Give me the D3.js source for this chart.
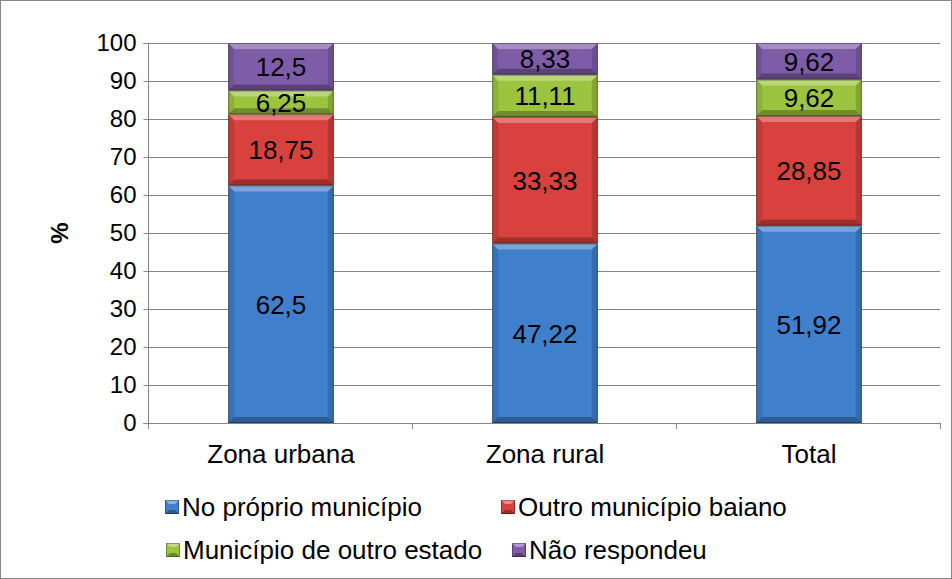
<!DOCTYPE html>
<html>
<head>
<meta charset="utf-8">
<script src="https://cdn.jsdelivr.net/npm/d3@7"></script>
<style>
  body { margin: 0; background: #fff; }
  svg { font-family: "Liberation Sans", Arial, sans-serif; }
</style>
</head>
<body>
<div id="chart"></div>
<script>
var width = 952;
var height = 579;

// data
var categories = ['Zona urbana', 'Zona rural', 'Total'];
var seriesNames = ['No próprio município', 'Outro município baiano', 'Município de outro estado', 'Não respondeu'];
var proprio = [62.5, 47.22, 51.92];
var baiano = [18.75, 33.33, 28.85];
var outroEstado = [6.25, 11.11, 9.62];
var naoResp = [12.5, 8.33, 9.62];
var labels = [
  ['62,5', '47,22', '51,92'],
  ['18,75', '33,33', '28,85'],
  ['6,25', '11,11', '9,62'],
  ['12,5', '8,33', '9,62']
];
var yTicks = [0, 10, 20, 30, 40, 50, 60, 70, 80, 90, 100];
var colors = ['#3f7fcc', '#d8413d', '#9cc43f', '#7e5ca8'];

var plotLeft = 148, plotRight = 940, plotTop = 43, plotBottom = 423;

var svg = d3.select('#chart').append('svg')
  .attr('width', width)
  .attr('height', height);

svg.append('rect')
  .attr('x', 0.5).attr('y', 0.5)
  .attr('width', width - 1).attr('height', height - 1)
  .attr('fill', '#fff').attr('stroke', '#868686');

var xScale = d3.scaleBand()
  .domain(categories)
  .range([plotLeft, plotRight])
  .paddingInner(0.6)
  .paddingOuter(0.3);

var xEdges = d3.scaleLinear().domain([0, 3]).range([plotLeft, plotRight]);

var yScale = d3.scaleLinear()
  .domain([0, 100])
  .range([plotBottom, plotTop]);

// gridlines
svg.append('g')
  .selectAll('line')
  .data(yTicks.slice(1))
  .enter().append('line')
  .attr('x1', plotLeft).attr('x2', plotRight)
  .attr('y1', d => Math.round(yScale(d)) + 0.5).attr('y2', d => Math.round(yScale(d)) + 0.5)
  .attr('stroke', '#868686').attr('stroke-width', 1);

// stacked data
var rows = categories.map((c, i) => ({
  cat: c,
  s0: proprio[i], s1: baiano[i], s2: outroEstado[i], s3: naoResp[i]
}));
var stack = d3.stack().keys(['s0', 's1', 's2', 's3']);
var layers = stack(rows);

var bev = 6;
var bars = svg.append('g');
layers.forEach((layer, si) => {
  layer.forEach((d, ci) => {
    var x0 = xScale(categories[ci]) + 1;
    var w = xScale.bandwidth();
    var y0 = yScale(d[1]);
    var y1 = yScale(d[0]);
    var h = y1 - y0;
    var b = Math.min(bev, h / 2);
    var g = bars.append('g');
    g.append('rect')
      .attr('x', x0).attr('y', y0).attr('width', w).attr('height', h)
      .attr('fill', colors[si]);
    // top bevel
    g.append('polygon')
      .attr('points', [[x0, y0], [x0 + w, y0], [x0 + w - b, y0 + b], [x0 + b, y0 + b]].join(' '))
      .attr('fill', '#fff').attr('opacity', 0.3);
    // bottom bevel
    g.append('polygon')
      .attr('points', [[x0, y1], [x0 + w, y1], [x0 + w - b, y1 - b], [x0 + b, y1 - b]].join(' '))
      .attr('fill', '#000').attr('opacity', 0.28);
    // left bevel
    g.append('polygon')
      .attr('points', [[x0, y0], [x0 + b, y0 + b], [x0 + b, y1 - b], [x0, y1]].join(' '))
      .attr('fill', '#000').attr('opacity', 0.1);
    // right bevel
    g.append('polygon')
      .attr('points', [[x0 + w, y0], [x0 + w - b, y0 + b], [x0 + w - b, y1 - b], [x0 + w, y1]].join(' '))
      .attr('fill', '#000').attr('opacity', 0.15);
    g.append('rect')
      .attr('x', x0 + 0.5).attr('y', y0 + 0.5).attr('width', w - 1).attr('height', h - 1)
      .attr('fill', 'none').attr('stroke', '#000').attr('stroke-opacity', 0.35);
    g.append('text')
      .attr('x', x0 + w / 2)
      .attr('y', (y0 + y1) / 2)
      .attr('dy', '0.36em')
      .attr('text-anchor', 'middle')
      .attr('font-size', 26)
      .attr('fill', '#000')
      .text(labels[si][ci]);
  });
});

// y axis
var yAxis = d3.axisLeft(yScale).tickValues(yTicks).tickSize(5).tickPadding(7);
var yG = svg.append('g')
  .attr('transform', 'translate(' + (plotLeft + 0.5) + ',0)')
  .call(yAxis);
yG.selectAll('text').attr('font-size', 24).attr('fill', '#000')
  .attr('font-family', '"Liberation Sans", Arial, sans-serif');
yG.selectAll('line, path').attr('stroke', '#868686');
yG.select('path').attr('d', 'M-5,' + (plotTop + 0.5) + 'H0V' + (plotBottom + 0.5) + 'H-5');

// x axis
svg.append('line')
  .attr('x1', plotLeft).attr('x2', plotRight)
  .attr('y1', plotBottom + 0.5).attr('y2', plotBottom + 0.5)
  .attr('stroke', '#868686');
svg.append('g').selectAll('line')
  .data([0, 1, 2, 3])
  .enter().append('line')
  .attr('x1', d => Math.round(xEdges(d)) + 0.5).attr('x2', d => Math.round(xEdges(d)) + 0.5)
  .attr('y1', plotBottom).attr('y2', plotBottom + 6)
  .attr('stroke', '#868686');
svg.append('g').selectAll('text')
  .data(categories)
  .enter().append('text')
  .attr('x', d => xScale(d) + xScale.bandwidth() / 2 + 1)
  .attr('y', 463)
  .attr('text-anchor', 'middle')
  .attr('font-size', 26)
  .text(d => d);

// y label
svg.append('text')
  .attr('transform', 'translate(68,233) rotate(-90)')
  .attr('text-anchor', 'middle')
  .attr('font-size', 24)
  .attr('font-weight', 'bold')
  .text('%');

// legend (flow layout like the original)
var legendPos = [[165, 507], [501, 507], [166, 550], [512, 550]];
var lg = svg.append('g');
seriesNames.forEach((n, i) => {
  var p = legendPos[i];
  var g = lg.append('g').attr('transform', 'translate(' + p[0] + ',' + p[1] + ')');
  g.append('rect').attr('x', 0).attr('y', -7).attr('width', 14).attr('height', 14)
    .attr('fill', colors[i]);
  g.append('polygon').attr('points', '0,-7 14,-7 10,-3 4,-3').attr('fill', '#fff').attr('opacity', 0.4);
  g.append('polygon').attr('points', '0,7 14,7 10,3 4,3').attr('fill', '#000').attr('opacity', 0.3);
  g.append('rect').attr('x', 0.5).attr('y', -6.5).attr('width', 13).attr('height', 13)
    .attr('fill', 'none').attr('stroke', '#000').attr('stroke-opacity', 0.3);
  g.append('text').attr('x', 17).attr('y', 0).attr('dy', '0.36em')
    .attr('font-size', 26).text(n);
});
</script>
</body>
</html>
